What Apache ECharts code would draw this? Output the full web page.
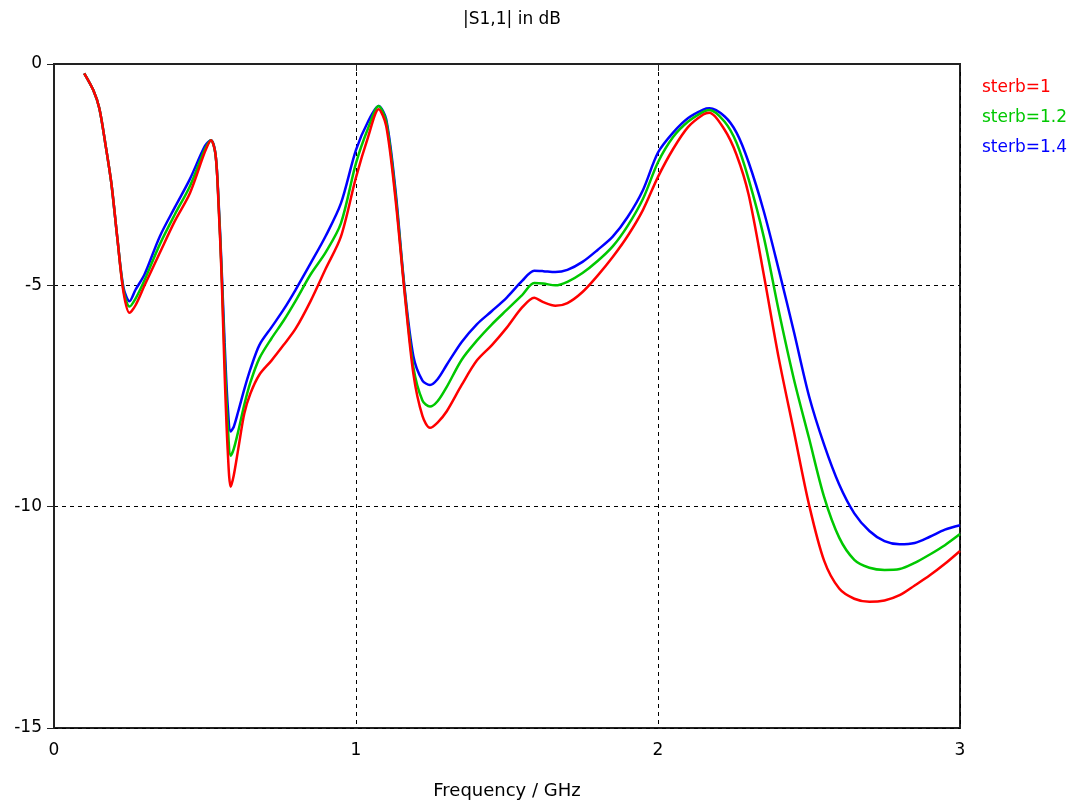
<!DOCTYPE html>
<html>
<head>
<meta charset="utf-8">
<script src="https://cdn.jsdelivr.net/npm/echarts@6/dist/echarts.min.js"></script>
<style>
html,body{margin:0;padding:0;background:#fff;}
#chart{width:1082px;height:803px;}
</style>
</head>
<body>
<div id="chart"></div>
<script>
const chartTitle = '|S1,1| in dB';
const xAxisName = 'Frequency / GHz';
const seriesNames = ['sterb=1', 'sterb=1.2', 'sterb=1.4'];
const xTicks = [0, 1, 2, 3];
const yTicks = [0, -5, -10, -15];

const freq = [0.10,0.13,0.15,0.17,0.19,0.21,0.23,0.25,0.27,0.30,0.35,0.40,0.45,0.50,0.52,0.535,0.545,0.555,0.565,0.575,0.585,0.595,0.61,0.63,0.65,0.68,0.72,0.76,0.80,0.85,0.90,0.95,1.0,1.04,1.075,1.10,1.13,1.16,1.19,1.22,1.245,1.27,1.30,1.35,1.40,1.45,1.50,1.55,1.59,1.62,1.66,1.70,1.75,1.80,1.85,1.90,1.95,2.0,2.05,2.10,2.15,2.17,2.22,2.26,2.30,2.35,2.40,2.45,2.50,2.55,2.60,2.65,2.70,2.75,2.80,2.85,2.90,2.95,3.0];

const s1 = [-0.21,-0.59,-1.0,-1.8,-2.7,-3.95,-5.15,-5.62,-5.45,-5.0,-4.27,-3.55,-2.92,-1.98,-1.72,-2.05,-3.2,-4.8,-7.0,-8.7,-9.55,-9.3,-8.7,-7.9,-7.45,-7.02,-6.7,-6.35,-5.98,-5.35,-4.62,-3.9,-2.56,-1.65,-1.02,-1.4,-3.0,-5.1,-7.0,-7.95,-8.22,-8.1,-7.85,-7.25,-6.7,-6.35,-5.95,-5.5,-5.28,-5.38,-5.46,-5.4,-5.15,-4.78,-4.36,-3.88,-3.3,-2.55,-1.92,-1.42,-1.14,-1.1,-1.48,-2.05,-2.95,-4.75,-6.65,-8.3,-9.95,-11.22,-11.85,-12.08,-12.15,-12.12,-12.0,-11.78,-11.55,-11.29,-11.0];

const s2 = [-0.21,-0.59,-1.0,-1.8,-2.7,-3.95,-5.1,-5.48,-5.3,-4.88,-4.08,-3.4,-2.76,-1.92,-1.72,-2.05,-3.15,-4.7,-6.6,-8.1,-8.85,-8.7,-8.3,-7.7,-7.2,-6.65,-6.2,-5.8,-5.35,-4.75,-4.25,-3.6,-2.24,-1.45,-0.95,-1.3,-2.9,-5.05,-6.85,-7.6,-7.74,-7.62,-7.3,-6.68,-6.25,-5.88,-5.55,-5.22,-4.95,-4.96,-5.0,-4.92,-4.72,-4.45,-4.12,-3.65,-3.05,-2.22,-1.65,-1.3,-1.08,-1.04,-1.3,-1.78,-2.6,-3.9,-5.58,-7.12,-8.45,-9.78,-10.7,-11.2,-11.38,-11.43,-11.41,-11.27,-11.08,-10.87,-10.62];

const s3 = [-0.21,-0.59,-1.0,-1.8,-2.7,-3.95,-5.05,-5.36,-5.1,-4.75,-3.9,-3.24,-2.6,-1.85,-1.72,-2.05,-3.1,-4.6,-6.3,-7.7,-8.3,-8.2,-7.85,-7.35,-6.9,-6.35,-5.95,-5.55,-5.1,-4.5,-3.88,-3.15,-1.94,-1.3,-0.95,-1.25,-2.8,-5.0,-6.6,-7.15,-7.25,-7.12,-6.8,-6.28,-5.88,-5.58,-5.27,-4.9,-4.67,-4.68,-4.7,-4.65,-4.47,-4.2,-3.9,-3.45,-2.85,-2.0,-1.55,-1.22,-1.03,-1.0,-1.18,-1.55,-2.22,-3.32,-4.65,-6.05,-7.5,-8.6,-9.5,-10.15,-10.55,-10.78,-10.85,-10.82,-10.68,-10.52,-10.42];

const colors = ['#ff0000', '#00c800', '#0000ff'];
const FONT = 'DejaVu Sans';

function pairs(ys) { return freq.map((f, i) => [f, ys[i]]); }

const chart = echarts.init(document.getElementById('chart'), null, {renderer: 'canvas'});
chart.setOption({
  animation: false,
  backgroundColor: '#ffffff',
  title: {
    text: chartTitle, left: 507, top: 6, textAlign: 'center',
    textStyle: {fontFamily: FONT, fontSize: 17, fontWeight: 'normal', color: '#000'}
  },
  legend: {
    orient: 'vertical', left: 977, top: 74, itemGap: 13,
    icon: 'none', itemWidth: 0, itemHeight: 10,
    data: seriesNames.map((n, i) => ({name: n, textStyle: {color: colors[i]}})),
    textStyle: {fontFamily: FONT, fontSize: 17, padding: [0,0,0,-5]},
    selectedMode: false
  },
  grid: {
    left: 54, right: 122, top: 64, bottom: 75,
    show: true, borderColor: '#222', borderWidth: 2, backgroundColor: '#fff',
    containLabel: false, outerBoundsMode: 'none'
  },
  xAxis: {
    type: 'value', min: xTicks[0], max: xTicks[xTicks.length - 1], interval: 1,
    name: xAxisName, nameLocation: 'middle', nameGap: 54,
    nameTextStyle: {fontFamily: FONT, fontSize: 18, color: '#000'},
    axisLine: {show: true, lineStyle: {color: '#222', width: 2}},
    axisTick: {show: true, length: 7, lineStyle: {color: '#222', width: 1}},
    axisLabel: {fontFamily: FONT, fontSize: 17, color: '#000', margin: 14},
    splitLine: {show: true, lineStyle: {color: '#000', type: [4, 4], width: 1}}
  },
  yAxis: {
    type: 'value', min: yTicks[yTicks.length - 1], max: yTicks[0], interval: 5,
    axisLine: {show: true, lineStyle: {color: '#222', width: 2}},
    axisTick: {show: true, length: 7, lineStyle: {color: '#222', width: 1}},
    axisLabel: {fontFamily: FONT, fontSize: 17, color: '#000', margin: 12},
    splitLine: {show: true, lineStyle: {color: '#000', type: [4, 4], width: 1}}
  },
  series: [s1, s2, s3].map((d, i) => ({
    name: seriesNames[i], type: 'line', data: pairs(d),
    showSymbol: false, smooth: 0.3,
    lineStyle: {color: colors[i], width: 2.5},
    itemStyle: {color: colors[i]},
    z: 10 - i
  })).reverse()
});
</script>
</body>
</html>
